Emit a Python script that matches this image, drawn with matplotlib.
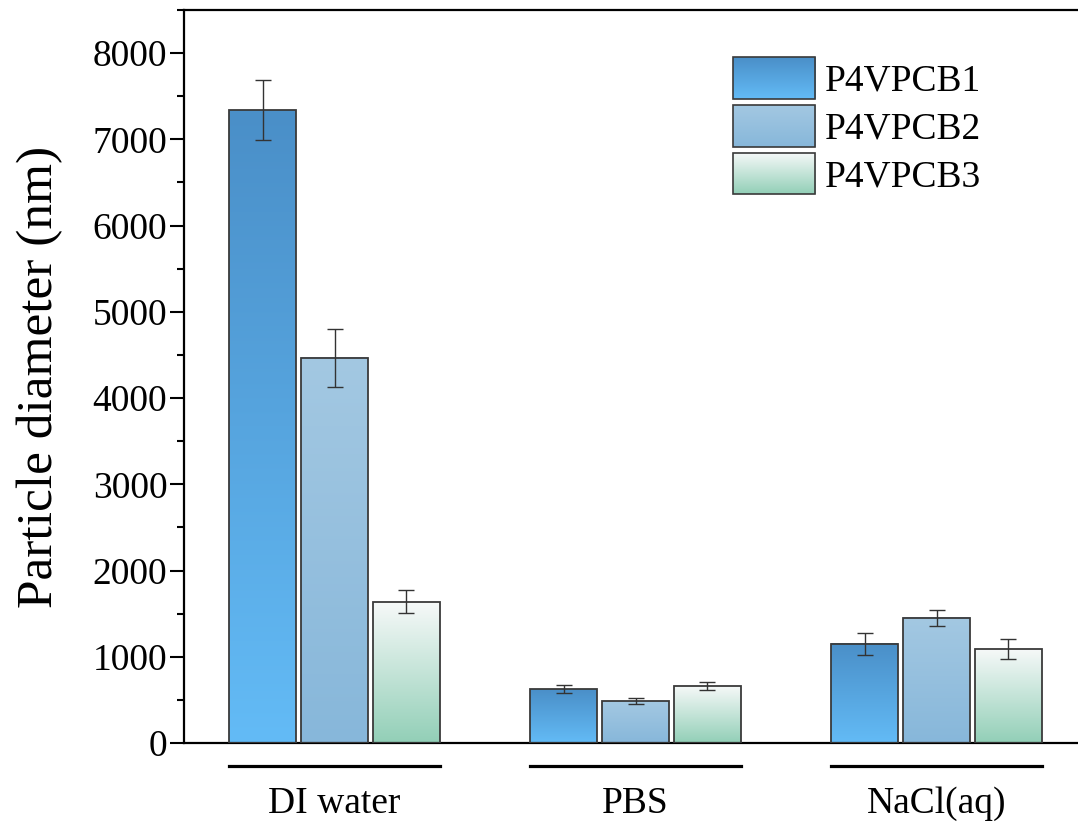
import numpy as np
import matplotlib
matplotlib.use('Agg')
import matplotlib.pyplot as plt
from matplotlib.patches import Patch, Rectangle
from matplotlib.legend_handler import HandlerBase
from matplotlib.image import BboxImage
from matplotlib.transforms import Bbox, TransformedBbox, blended_transform_factory
from matplotlib.ticker import MultipleLocator
import matplotlib.colors as mcolors

plt.rcParams['font.family'] = 'serif'
plt.rcParams['font.serif'] = ['Liberation Serif', 'DejaVu Serif']

# Particle size data (nm)
media = ['DI water', 'PBS', 'NaCl(aq)']
samples = ['P4VPCB1', 'P4VPCB2', 'P4VPCB3']
diam_cb1 = [7340, 626, 1148]
diam_cb2 = [4465, 487, 1450]
diam_cb3 = [1640, 661, 1090]
err_cb1 = [350, 52, 125]
err_cb2 = [335, 30, 88]
err_cb3 = [135, 45, 120]

# top / bottom colours of each vertical gradient
grad_top = ['#4a8fc8', '#a3c8e2', '#f7f9f9']
grad_bottom = ['#63bbf6', '#87b7da', '#92cfb7']


def gradient_rgb(top, bottom, n=256):
    t = np.linspace(0, 1, n)[:, None]
    c0 = np.array(mcolors.to_rgb(top))
    c1 = np.array(mcolors.to_rgb(bottom))
    return (c0 * (1 - t) + c1 * t)[:, None, :]


class GradientHandler(HandlerBase):
    def __init__(self, top, bottom):
        super().__init__()
        self.rgb = gradient_rgb(top, bottom)

    def create_artists(self, legend, orig_handle, xdescent, ydescent,
                       width, height, fontsize, trans):
        box = TransformedBbox(Bbox.from_bounds(-xdescent, -ydescent, width, height), trans)
        img = BboxImage(box, interpolation='bilinear')
        img.set_data(self.rgb)
        edge = Rectangle((-xdescent, -ydescent), width, height, facecolor='none',
                         edgecolor='#3a3a3a', linewidth=1.2, transform=trans)
        return [img, edge]


fig = plt.figure(figsize=(10.78, 8.24), dpi=100)
ax = fig.add_axes([0.1707, 0.0983, 0.8293, 0.8896])

x = np.arange(len(media))
step = 0.239
width = 0.22
series = [diam_cb1, diam_cb2, diam_cb3]
errors = [err_cb1, err_cb2, err_cb3]

handles = []
handler_map = {}
for i, (vals, errs) in enumerate(zip(series, errors)):
    xpos = x + (i - 1) * step
    bars = ax.bar(xpos, vals, width, facecolor='none', edgecolor='#3a3a3a',
                  linewidth=1.3, zorder=3)
    rgb = gradient_rgb(grad_top[i], grad_bottom[i])
    for b in bars:
        x0, h = b.get_x(), b.get_height()
        ax.imshow(rgb, extent=(x0, x0 + b.get_width(), 0, h), aspect='auto',
                  interpolation='bilinear', zorder=2)
    ax.errorbar(xpos, vals, yerr=errs, fmt='none', ecolor='#333333',
                elinewidth=1.0, capsize=5.5, capthick=1.0, zorder=4)
    h = Patch(label=samples[i])
    handles.append(h)
    handler_map[h] = GradientHandler(grad_top[i], grad_bottom[i])

ax.set_xlim(-0.5, 2.47)
ax.set_ylim(0, 8500)
ax.yaxis.set_major_locator(MultipleLocator(1000))
ax.yaxis.set_minor_locator(MultipleLocator(500))
ax.tick_params(axis='y', which='major', direction='out', length=10, width=1.5,
               labelsize=27, pad=2)
ax.tick_params(axis='y', which='minor', direction='out', length=5, width=1.5)
ax.set_xticks([])
for s in ['left', 'bottom', 'top']:
    ax.spines[s].set_linewidth(1.6)
ax.spines['right'].set_visible(False)
ax.set_ylabel('Particle diameter (nm)', fontsize=37, labelpad=21)

# group underlines and labels below the axis
trans = blended_transform_factory(ax.transData, ax.transAxes)
for xi, name in zip(x, media):
    ax.plot([xi - step - width / 2, xi + step + width / 2], [-0.0314, -0.0314],
            color='black', linewidth=2.3, transform=trans, clip_on=False)
    ax.text(xi, -0.0955, name, transform=trans, ha='center', va='baseline',
            fontsize=27)

ax.legend(handles=handles, handler_map=handler_map, loc='upper left',
          bbox_to_anchor=(0.614, 0.936), frameon=False, fontsize=27,
          borderpad=0, borderaxespad=0, handlelength=2.2, handleheight=1.34,
          labelspacing=0.16, handletextpad=0.25)

fig.savefig('out.png', dpi=100)
